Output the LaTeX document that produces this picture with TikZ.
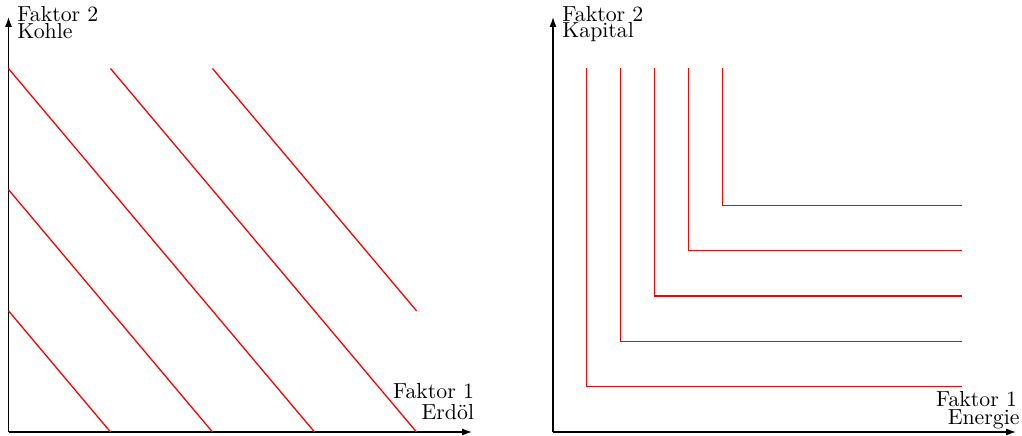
\documentclass[tikz,border=0pt]{standalone}
\usetikzlibrary{arrows.meta}
\begin{document}
\begin{tikzpicture}[x=0.4587pt,y=-0.4587pt,
  axis/.style={line width=0.6pt,-{Latex[length=4.5pt,width=3.2pt]}},
  curve/.style={red,line width=0.6pt},
  lbl/.style={inner sep=0pt,font=\normalsize}]
\useasboundingbox (0,0) rectangle (1022,436);
% ---------- left plot ----------
\coordinate (O1) at (8.5,432);
\coordinate (Y1) at (8.5,17);
\coordinate (X1) at (472,432);
\draw[axis] (O1) -- (Y1);
\draw[axis] (O1) -- (X1);
\node[lbl,anchor=base west] (l1a) at (17,22) {Faktor 2};
\node[lbl,anchor=base west] (l1b) at (17,38.8) {Kohle};
\node[lbl,anchor=base east] (l1c) at (474.5,398.3) {Faktor 1};
\node[lbl,anchor=base east] (l1d) at (474.5,420) {Erdöl};
\coordinate (a1) at (8.5,310.8);  \coordinate (b1) at (110.5,432);
\coordinate (a2) at (8.5,189.7);  \coordinate (b2) at (212.5,432);
\coordinate (a3) at (8.5,68.5);   \coordinate (b3) at (314.5,432);
\coordinate (a4) at (110.5,68.5); \coordinate (b4) at (416.5,432);
\coordinate (a5) at (212.5,68.5); \coordinate (b5) at (416.5,310.8);
\foreach \i in {1,...,5} \draw[curve] (a\i) -- (b\i);
% ---------- right plot ----------
\coordinate (O2) at (553,432);
\coordinate (Y2) at (553,17);
\coordinate (X2) at (1016,432);
\draw[axis] (O2) -- (Y2);
\draw[axis] (O2) -- (X2);
\node[lbl,anchor=base west] (r1a) at (562,22) {Faktor 2};
\node[lbl,anchor=base west] (r1b) at (562,38) {Kapital};
\node[lbl,anchor=base east] (r1c) at (1017.5,406) {Faktor 1};
\node[lbl,anchor=base east] (r1d) at (1020,425) {Energie};
\foreach \i/\x/\y in {1/586.7/386.7, 2/620.7/341.3, 3/654.7/296, 4/688.7/250.7, 5/722.7/205.3} {
  \coordinate (t\i) at (\x,68.5);
  \coordinate (c\i) at (\x,\y);
  \coordinate (e\i) at (961.7,\y);
  \draw[curve] (t\i) -- (c\i) -- (e\i);
}
\end{tikzpicture}
\end{document}
